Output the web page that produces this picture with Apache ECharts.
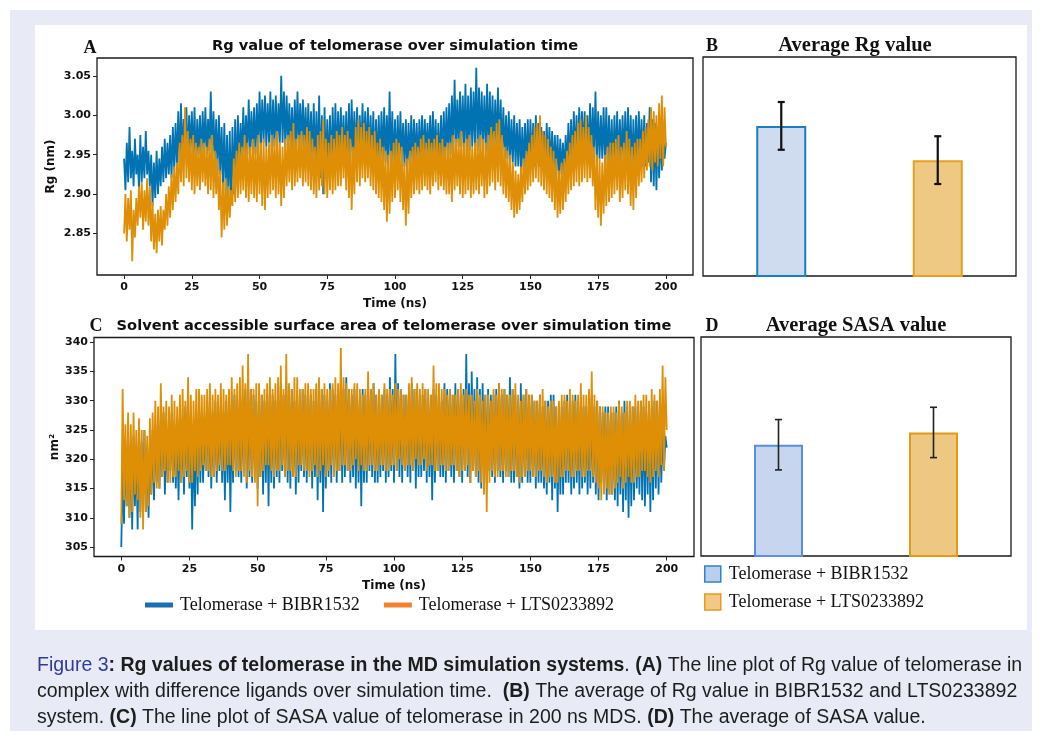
<!DOCTYPE html>
<html>
<head>
<meta charset="utf-8">
<title>Figure 3</title>
<script src="https://cdn.jsdelivr.net/npm/echarts@6/dist/echarts.min.js"></script>
<style>
  html, body { margin: 0; padding: 0; background: #fff; }
  #chart { width: 1042px; height: 740px; }
</style>
</head>
<body>
<div id="chart"></div>
<script>
const GROUPS = ['Telomerase + BIBR1532', 'Telomerase + LTS0233892']
const TIME_TICKS = [0, 25, 50, 75, 100, 125, 150, 175, 200]
const RG_TICKS = [2.85, 2.9, 2.95, 3.0, 3.05]
const SASA_TICKS = [305, 310, 315, 320, 325, 330, 335, 340]
const TIME_STEP = 0.5 // ns between samples, 0..200 ns

// Rg (nm), one row = 10 ns
const RG_BIBR = [
  2.945, 2.905, 2.965, 2.915, 2.985, 2.920, 2.955, 2.910, 2.970, 2.925, 2.950, 2.905, 2.975, 2.915, 2.960, 2.920, 2.980, 2.925, 2.955, 2.910,
  2.950, 2.885, 2.940, 2.895, 2.955, 2.900, 2.945, 2.910, 2.960, 2.915, 2.970, 2.920, 2.965, 2.925, 2.975, 2.920, 2.985, 2.930, 2.990, 2.935,
  3.005, 2.940, 3.015, 2.945, 2.995, 2.950, 3.010, 2.940, 3.000, 2.955, 3.005, 2.945, 3.010, 2.935, 2.995, 2.950, 3.000, 2.945, 3.005, 2.950,
  3.010, 2.950, 2.995, 2.955, 3.030, 2.945, 3.005, 2.940, 2.995, 2.930, 3.000, 2.925, 2.985, 2.910, 2.990, 2.900, 2.975, 2.895, 2.980, 2.890,
  2.985, 2.900, 2.995, 2.920, 3.000, 2.935, 2.990, 2.940, 3.010, 2.945, 3.000, 2.950, 3.020, 2.950, 3.005, 2.955, 3.010, 2.950, 3.015, 2.955,
  3.030, 2.960, 3.020, 2.965, 3.025, 2.960, 3.015, 2.965, 3.030, 2.955, 3.020, 2.960, 3.025, 2.960, 3.015, 2.965, 3.050, 2.965, 3.030, 2.960,
  3.025, 2.960, 3.015, 2.955, 3.010, 2.950, 3.020, 2.955, 3.030, 2.960, 3.015, 2.960, 3.020, 2.955, 3.010, 2.950, 3.015, 2.945, 3.005, 2.940,
  3.015, 2.935, 3.005, 2.930, 3.025, 2.920, 3.000, 2.900, 3.010, 2.925, 2.995, 2.930, 3.000, 2.930, 3.010, 2.935, 3.015, 2.940, 3.005, 2.945,
  3.010, 2.945, 3.000, 2.940, 3.005, 2.935, 3.015, 2.940, 3.020, 2.945, 3.005, 2.940, 3.010, 2.945, 3.000, 2.940, 3.015, 2.950, 3.005, 2.945,
  3.010, 2.945, 3.000, 2.940, 3.005, 2.930, 2.995, 2.935, 3.000, 2.935, 3.005, 2.940, 3.010, 2.940, 3.000, 2.935, 3.030, 2.935, 3.005, 2.930,
  2.995, 2.930, 3.000, 2.935, 3.005, 2.940, 2.990, 2.935, 2.995, 2.930, 2.990, 2.935, 3.000, 2.935, 2.995, 2.940, 2.990, 2.935, 2.995, 2.940,
  3.000, 2.940, 2.995, 2.945, 2.990, 2.945, 3.000, 2.940, 3.005, 2.940, 2.995, 2.935, 2.990, 2.930, 3.000, 2.940, 3.005, 2.945, 3.010, 2.950,
  3.015, 2.950, 3.025, 2.955, 3.045, 2.955, 3.020, 2.960, 3.030, 2.960, 3.025, 2.955, 3.040, 2.950, 3.025, 2.955, 3.035, 2.960, 3.030, 2.960,
  3.060, 2.955, 3.035, 2.960, 3.030, 2.960, 3.025, 2.955, 3.040, 2.950, 3.030, 2.955, 3.025, 2.955, 3.020, 2.955, 3.035, 2.950, 3.020, 2.950,
  3.010, 2.945, 3.000, 2.945, 3.005, 2.940, 2.995, 2.940, 3.000, 2.935, 2.990, 2.935, 2.995, 2.930, 2.985, 2.930, 2.990, 2.935, 2.995, 2.935,
  2.995, 2.935, 2.990, 2.935, 3.000, 2.940, 2.990, 2.935, 2.985, 2.930, 2.980, 2.930, 2.990, 2.935, 2.985, 2.930, 2.980, 2.925, 2.975, 2.925,
  2.975, 2.920, 2.970, 2.925, 2.965, 2.925, 2.975, 2.930, 2.990, 2.935, 2.995, 2.940, 3.005, 2.945, 3.000, 2.945, 3.010, 2.950, 3.005, 2.950,
  3.005, 2.950, 3.000, 2.945, 3.015, 2.945, 3.010, 2.945, 3.030, 2.940, 3.005, 2.945, 3.000, 2.945, 3.010, 2.940, 3.010, 2.935, 3.000, 2.935,
  2.995, 2.930, 3.000, 2.935, 3.005, 2.935, 2.995, 2.940, 3.000, 2.940, 3.005, 2.935, 3.010, 2.935, 3.000, 2.930, 2.995, 2.930, 3.000, 2.935,
  3.005, 2.940, 2.995, 2.935, 3.000, 2.935, 2.990, 2.940, 3.010, 2.915, 2.995, 2.910, 2.990, 2.905, 2.985, 2.920, 2.985, 2.930, 2.975, 2.945,
  2.965
]
const RG_LTS = [
  2.850, 2.900, 2.840, 2.895, 2.855, 2.905, 2.815, 2.880, 2.845, 2.895, 2.860, 2.910, 2.870, 2.915, 2.855, 2.905, 2.865, 2.920, 2.860, 2.910,
  2.840, 2.890, 2.830, 2.875, 2.825, 2.880, 2.840, 2.885, 2.835, 2.880, 2.855, 2.900, 2.860, 2.910, 2.870, 2.925, 2.880, 2.935, 2.890, 2.940,
  2.900, 2.965, 2.915, 2.975, 2.910, 3.010, 2.920, 2.980, 2.915, 2.970, 2.905, 2.975, 2.900, 2.965, 2.910, 2.960, 2.905, 2.970, 2.915, 2.965,
  2.910, 2.960, 2.900, 2.970, 2.905, 2.975, 2.895, 2.955, 2.900, 2.945, 2.880, 2.930, 2.845, 2.915, 2.855, 2.920, 2.860, 2.910, 2.870, 2.905,
  2.885, 2.945, 2.890, 2.955, 2.895, 2.965, 2.900, 2.960, 2.905, 2.975, 2.895, 2.965, 2.890, 2.960, 2.900, 2.970, 2.895, 2.960, 2.890, 2.975,
  2.900, 2.965, 2.885, 2.970, 2.880, 2.960, 2.895, 2.965, 2.900, 2.975, 2.905, 2.970, 2.895, 2.980, 2.900, 2.965, 2.885, 2.960, 2.895, 2.970,
  2.910, 2.975, 2.915, 2.980, 2.905, 2.990, 2.910, 2.970, 2.915, 2.975, 2.920, 2.980, 2.910, 2.975, 2.915, 2.985, 2.910, 2.980, 2.905, 2.970,
  2.900, 2.960, 2.895, 2.975, 2.905, 2.980, 2.910, 2.995, 2.900, 2.970, 2.895, 2.965, 2.905, 2.975, 2.900, 2.970, 2.905, 2.980, 2.910, 2.975,
  2.910, 2.985, 2.920, 2.975, 2.905, 2.980, 2.895, 2.970, 2.880, 2.960, 2.900, 2.985, 2.915, 2.995, 2.910, 2.985, 2.920, 2.990, 2.915, 2.980,
  2.920, 2.985, 2.910, 2.975, 2.905, 2.980, 2.900, 2.965, 2.895, 2.970, 2.890, 2.960, 2.880, 2.955, 2.865, 2.950, 2.875, 2.955, 2.890, 2.965,
  2.895, 2.970, 2.905, 2.965, 2.890, 2.960, 2.880, 2.940, 2.860, 2.945, 2.875, 2.955, 2.895, 2.960, 2.900, 2.965, 2.905, 2.960, 2.900, 2.970,
  2.905, 2.975, 2.910, 2.965, 2.905, 2.970, 2.900, 2.965, 2.910, 2.970, 2.915, 2.975, 2.905, 2.965, 2.910, 2.970, 2.905, 2.960, 2.900, 2.965,
  2.900, 2.965, 2.890, 2.975, 2.905, 2.970, 2.910, 2.970, 2.900, 2.980, 2.895, 2.965, 2.900, 2.970, 2.905, 2.975, 2.895, 2.960, 2.900, 2.965,
  2.905, 2.970, 2.900, 2.975, 2.910, 2.970, 2.895, 2.965, 2.900, 2.975, 2.910, 2.985, 2.915, 2.980, 2.905, 2.990, 2.915, 2.995, 2.910, 2.975,
  2.900, 2.960, 2.895, 2.955, 2.890, 2.950, 2.880, 2.940, 2.870, 2.930, 2.875, 2.925, 2.880, 2.935, 2.890, 2.945, 2.900, 2.955, 2.905, 2.965,
  2.910, 2.975, 2.915, 2.985, 2.920, 2.990, 2.915, 3.000, 2.910, 2.980, 2.905, 2.975, 2.900, 2.970, 2.895, 2.960, 2.890, 2.955, 2.880, 2.945,
  2.870, 2.930, 2.875, 2.940, 2.880, 2.945, 2.890, 2.955, 2.900, 2.965, 2.905, 2.975, 2.910, 2.980, 2.915, 2.990, 2.910, 2.995, 2.915, 2.985,
  2.920, 3.000, 2.915, 2.985, 2.920, 2.975, 2.910, 2.960, 2.880, 2.950, 2.870, 2.945, 2.860, 2.940, 2.875, 2.950, 2.885, 2.960, 2.890, 2.965,
  2.895, 2.965, 2.900, 2.970, 2.905, 2.975, 2.890, 2.960, 2.895, 2.965, 2.905, 2.980, 2.900, 2.970, 2.885, 2.960, 2.880, 2.965, 2.895, 2.970,
  2.910, 2.970, 2.915, 2.980, 2.920, 2.985, 2.930, 2.995, 2.935, 3.010, 2.930, 3.005, 2.940, 3.000, 2.935, 3.015, 2.945, 3.025, 2.935, 3.010,
  2.960
]
// SASA (nm²), one row = 10 ns
const SASA_BIBR = [
  305, 318, 309, 322, 312, 325, 310, 323, 308, 324, 312, 322, 308, 326, 311, 323, 313, 325, 311, 322,
  310, 322, 314, 325, 313, 326, 316, 327, 315, 325, 317, 328, 314, 325, 316, 327, 318, 328, 316, 326,
  315, 326, 313, 328, 316, 327, 314, 329, 317, 327, 315, 326, 308, 325, 312, 327, 314, 329, 316, 328,
  316, 327, 318, 330, 317, 329, 315, 328, 317, 330, 316, 328, 318, 329, 316, 328, 313, 330, 316, 329,
  311, 327, 316, 331, 318, 330, 317, 329, 316, 330, 318, 332, 315, 331, 317, 332, 316, 331, 318, 330,
  315, 330, 317, 331, 314, 330, 316, 331, 312, 332, 316, 331, 315, 330, 317, 331, 316, 333, 318, 331,
  317, 333, 316, 331, 315, 332, 317, 330, 314, 331, 316, 330, 318, 332, 317, 331, 316, 332, 318, 331,
  315, 330, 317, 332, 313, 331, 316, 332, 311, 331, 315, 330, 317, 333, 316, 332, 318, 331, 316, 332,
  318, 333, 316, 332, 317, 334, 318, 332, 316, 331, 317, 332, 315, 330, 316, 331, 312, 332, 316, 331,
  316, 331, 318, 332, 317, 333, 316, 331, 316, 330, 317, 331, 318, 332, 316, 331, 317, 334, 318, 332,
  316, 338, 318, 333, 317, 332, 316, 331, 318, 331, 317, 332, 316, 333, 318, 332, 315, 332, 317, 331,
  317, 331, 318, 332, 316, 330, 317, 331, 313, 332, 316, 331, 318, 331, 317, 330, 317, 333, 316, 332,
  318, 332, 317, 331, 316, 333, 318, 332, 317, 331, 316, 332, 318, 338, 317, 333, 316, 335, 318, 332,
  317, 334, 316, 332, 315, 333, 317, 331, 316, 332, 318, 331, 317, 331, 316, 332, 318, 333, 317, 331,
  316, 332, 318, 331, 317, 334, 316, 332, 316, 331, 317, 330, 315, 333, 316, 331, 317, 332, 316, 331,
  316, 331, 317, 330, 315, 330, 316, 331, 316, 329, 315, 330, 314, 330, 316, 331, 313, 331, 315, 329,
  311, 328, 314, 329, 314, 330, 316, 331, 316, 329, 314, 330, 315, 331, 316, 330, 314, 330, 315, 329,
  316, 329, 314, 330, 315, 331, 316, 329, 314, 330, 313, 329, 316, 328, 315, 329, 313, 329, 314, 328,
  314, 328, 313, 329, 312, 330, 314, 328, 311, 330, 313, 329, 310, 328, 312, 329, 313, 329, 315, 328,
  314, 330, 313, 329, 312, 328, 314, 329, 311, 329, 313, 330, 315, 330, 314, 329, 316, 325, 318, 324,
  322
]
const SASA_LTS = [
  309, 332, 313, 326, 312, 328, 310, 326, 311, 328, 314, 325, 313, 327, 310, 325, 308, 325, 311, 324,
  312, 327, 314, 328, 316, 330, 315, 329, 315, 333, 317, 329, 318, 330, 316, 329, 316, 331, 317, 330,
  317, 329, 318, 331, 316, 332, 317, 330, 318, 334, 316, 331, 316, 330, 318, 332, 317, 332, 318, 331,
  319, 331, 318, 332, 318, 333, 317, 331, 317, 332, 318, 331, 319, 333, 318, 332, 318, 331, 319, 332,
  319, 334, 318, 332, 317, 333, 318, 334, 318, 336, 317, 333, 316, 338, 318, 332, 317, 332, 316, 333,
  312, 333, 317, 331, 318, 332, 319, 333, 319, 334, 318, 332, 317, 333, 318, 334, 318, 336, 319, 332,
  317, 338, 318, 333, 318, 332, 317, 334, 317, 334, 319, 332, 319, 332, 318, 333, 318, 333, 317, 332,
  318, 332, 319, 333, 317, 334, 318, 332, 319, 333, 317, 332, 318, 332, 319, 333, 317, 334, 318, 333,
  318, 339, 319, 334, 319, 333, 318, 332, 318, 332, 319, 333, 320, 333, 318, 332, 319, 331, 318, 332,
  318, 335, 319, 332, 319, 333, 318, 331, 318, 332, 319, 331, 319, 333, 318, 332, 318, 332, 319, 331,
  319, 333, 318, 332, 320, 332, 319, 331, 318, 331, 319, 333, 319, 334, 318, 332, 320, 333, 319, 332,
  319, 333, 320, 332, 318, 332, 319, 331, 319, 336, 318, 333, 318, 333, 319, 332, 319, 332, 318, 331,
  318, 332, 319, 331, 319, 331, 318, 332, 317, 333, 318, 331, 318, 332, 319, 331, 316, 331, 318, 330,
  317, 332, 318, 331, 316, 330, 314, 331, 311, 331, 316, 330, 318, 332, 317, 331, 317, 333, 318, 332,
  318, 332, 317, 331, 317, 331, 318, 332, 318, 333, 317, 331, 316, 330, 317, 331, 317, 332, 318, 331,
  318, 331, 317, 330, 317, 330, 318, 331, 318, 332, 317, 330, 316, 329, 317, 330, 317, 330, 316, 329,
  316, 330, 317, 331, 317, 331, 318, 330, 318, 332, 317, 331, 317, 330, 318, 331, 318, 333, 317, 331,
  317, 331, 318, 332, 318, 335, 317, 331, 316, 330, 315, 329, 313, 329, 314, 328, 315, 328, 314, 329,
  314, 329, 315, 328, 316, 330, 317, 329, 315, 328, 316, 330, 317, 330, 316, 329, 316, 331, 317, 330,
  317, 330, 318, 331, 318, 331, 317, 330, 316, 332, 317, 331, 318, 330, 317, 332, 319, 336, 318, 334,
  325
]

// averages and standard deviations (panels B and D)
const RG_MEAN = [2.986, 2.943]
const RG_SD = [0.030, 0.030]
const SASA_MEAN = [322.4, 324.5]
const SASA_SD = [4.3, 4.3]

const LINE_COLORS = ['#0173b2', '#de8f05']
const TICK_FONT = { fontFamily: 'DejaVu Sans', fontWeight: 'bold', fontSize: 11, color: '#111' }
const NAME_FONT = { fontFamily: 'DejaVu Sans', fontWeight: 'bold', fontSize: 12, color: '#111' }
const SERIF = 'Liberation Serif'

function toPairs(values) {
  return values.map((v, i) => [i * TIME_STEP, v])
}

function timeAxis(gridIndex) {
  return {
    type: 'value',
    gridIndex,
    min: -10,
    max: 210,
    name: 'Time (ns)',
    nameLocation: 'middle',
    nameGap: 23,
    nameMoveOverlap: false,
    nameTextStyle: NAME_FONT,
    axisLine: { show: false, onZero: false },
    splitLine: { show: false },
    axisTick: { customValues: TIME_TICKS, length: 4, lineStyle: { color: '#222', width: 1 } },
    axisLabel: { customValues: TIME_TICKS, margin: 7, ...TICK_FONT }
  }
}

function valueAxis(gridIndex, min, max, ticks, name, gap, digits) {
  return {
    type: 'value',
    gridIndex,
    min,
    max,
    name,
    nameLocation: 'middle',
    nameRotate: 90,
    nameGap: gap,
    nameMoveOverlap: false,
    nameTextStyle: NAME_FONT,
    axisLine: { show: false, onZero: false },
    splitLine: { show: false },
    axisTick: { customValues: ticks, length: 4, lineStyle: { color: '#222', width: 1 } },
    axisLabel: {
      customValues: ticks,
      margin: 6,
      formatter: (v) => v.toFixed(digits),
      ...TICK_FONT
    }
  }
}

function hiddenAxis(gridIndex, min, max) {
  return { type: 'value', gridIndex, min, max, show: false, splitLine: { show: false } }
}

function categoryAxis(gridIndex) {
  return { type: 'category', gridIndex, data: GROUPS, show: false }
}

function errorBars(capHalf, width, color) {
  return function (params, api) {
    const idx = api.value(0)
    const mean = api.value(1)
    const err = api.value(2)
    const top = api.coord([idx, mean + err])
    const bottom = api.coord([idx, mean - err])
    const style = { stroke: color, lineWidth: width }
    return {
      type: 'group',
      children: [
        { type: 'line', shape: { x1: top[0], y1: top[1], x2: bottom[0], y2: bottom[1] }, style },
        { type: 'line', shape: { x1: top[0] - capHalf, y1: top[1], x2: top[0] + capHalf, y2: top[1] }, style },
        { type: 'line', shape: { x1: bottom[0] - capHalf, y1: bottom[1], x2: bottom[0] + capHalf, y2: bottom[1] }, style }
      ]
    }
  }
}

function lineSeries(name, values, axisIndex, color) {
  return {
    name,
    type: 'line',
    xAxisIndex: axisIndex,
    yAxisIndex: axisIndex,
    data: toPairs(values),
    showSymbol: false,
    animation: false,
    clip: true,
    lineStyle: { color, width: 1.8 },
    itemStyle: { color },
    emphasis: { disabled: true }
  }
}

function barSeries(values, axisIndex, fills, borders, barWidth) {
  return {
    type: 'bar',
    xAxisIndex: axisIndex,
    yAxisIndex: axisIndex,
    barWidth,
    animation: false,
    clip: true,
    data: values.map((v, i) => ({
      value: v,
      itemStyle: { color: fills[i], borderColor: borders[i], borderWidth: 2 }
    }))
  }
}

function errorSeries(means, sds, axisIndex, capHalf, width, color) {
  return {
    type: 'custom',
    xAxisIndex: axisIndex,
    yAxisIndex: axisIndex,
    animation: false,
    z: 5,
    encode: { x: 0, y: 1 },
    renderItem: errorBars(capHalf, width, color),
    data: means.map((m, i) => [i, m, sds[i]])
  }
}

const RG_MIN = 2.7975
const RG_MAX = 3.0725
const SASA_MIN = 303.4
const SASA_MAX = 340.8

const frame = { show: true, borderColor: '#1a1a1a', borderWidth: 1.3, backgroundColor: 'transparent' }

const caption = [
  '{fig|Figure 3}{b|: Rg values of telomerase in the MD simulation systems}{n|. }{b|(A)}{n| The line plot of Rg value of telomerase in}',
  '{n|complex with difference ligands over simulation time.  }{b|(B)}{n| The average of Rg value in BIBR1532 and LTS0233892}',
  '{n|system. }{b|(C)}{n| The line plot of SASA value of telomerase in 200 ns MDS. }{b|(D)}{n| The average of SASA value.}'
].join('\n')

const capFont = 'Liberation Sans'
const capSize = 19.5
const plotTitleFont = 'bold 14.6px "DejaVu Sans"'
const barTitleFont = 'bold 20.5px "Liberation Serif"'
const letterFont = 'bold 18px "Liberation Serif"'

function label(x, y, text, font) {
  return { type: 'text', x, y, style: { text, font, fill: '#111', align: 'center', verticalAlign: 'middle' } }
}

const chart = echarts.init(document.getElementById('chart'))
chart.setOption({
  backgroundColor: '#fff',
  animation: false,
  graphic: [
    { type: 'rect', z: -20, shape: { x: 10, y: 10, width: 1022, height: 721 }, style: { fill: '#e8ebf6' } },
    { type: 'rect', z: -19, shape: { x: 35, y: 25, width: 992, height: 605 }, style: { fill: '#ffffff' } },
    label(90, 48, 'A', letterFont),
    label(395, 46, 'Rg value of telomerase over simulation time', plotTitleFont),
    label(712, 46, 'B', letterFont),
    label(855, 46, 'Average Rg value', barTitleFont),
    label(96, 326, 'C', letterFont),
    label(394, 326, 'Solvent accessible surface area of telomerase over simulation time', plotTitleFont),
    label(712, 326, 'D', letterFont),
    label(856, 326, 'Average SASA value', barTitleFont),
    {
      type: 'text',
      x: 37,
      y: 653,
      style: {
        text: caption,
        fill: '#1d1d1d',
        font: capSize + 'px "' + capFont + '"',
        lineHeight: 26,
        rich: {
          fig: { fill: '#2e3c98', fontFamily: capFont, fontSize: capSize, lineHeight: 26 },
          b: { fill: '#1d1d1d', fontFamily: capFont, fontSize: capSize, fontWeight: 'bold', lineHeight: 26 },
          n: { fill: '#1d1d1d', fontFamily: capFont, fontSize: capSize, lineHeight: 26 }
        }
      }
    }
  ],
  legend: [
    {
      left: 145,
      top: 596,
      padding: 0,
      itemGap: 24,
      itemWidth: 28,
      itemHeight: 5,
      selectedMode: false,
      icon: 'rect',
      textStyle: { fontFamily: SERIF, fontSize: 18, color: '#111', padding: [0, 0, 0, 2] },
      data: [
        { name: GROUPS[0], itemStyle: { color: '#1a6fb1', borderWidth: 0 } },
        { name: GROUPS[1], itemStyle: { color: '#f0822f', borderWidth: 0 } }
      ]
    },
    {
      left: 704,
      top: 565,
      orient: 'vertical',
      padding: 0,
      itemGap: 10,
      itemWidth: 16,
      itemHeight: 16,
      selectedMode: false,
      icon: 'rect',
      textStyle: { fontFamily: SERIF, fontSize: 18, color: '#111', padding: [0, 0, 0, 3] },
      data: [
        { name: GROUPS[0], itemStyle: { color: '#b9d0ec', borderColor: '#2f83c6', borderWidth: 1.5 } },
        { name: GROUPS[1], itemStyle: { color: '#f0c988', borderColor: '#e59b1b', borderWidth: 1.5 } }
      ]
    }
  ],
  grid: [
    { left: 97, top: 58, width: 596, height: 217, ...frame },
    { left: 703, top: 57, width: 313, height: 219, ...frame },
    { left: 94, top: 337.5, width: 600, height: 219, ...frame },
    { left: 701, top: 337, width: 310, height: 219, ...frame }
  ],
  xAxis: [timeAxis(0), categoryAxis(1), timeAxis(2), categoryAxis(3)],
  yAxis: [
    valueAxis(0, RG_MIN, RG_MAX, RG_TICKS, 'Rg (nm)', 40, 2),
    hiddenAxis(1, RG_MIN, RG_MAX),
    valueAxis(2, SASA_MIN, SASA_MAX, SASA_TICKS, 'nm²', 33, 0),
    hiddenAxis(3, SASA_MIN, SASA_MAX)
  ],
  series: [
    lineSeries(GROUPS[0], RG_BIBR, 0, LINE_COLORS[0]),
    lineSeries(GROUPS[1], RG_LTS, 0, LINE_COLORS[1]),
    barSeries(RG_MEAN, 1, ['#cfdbef', '#edc984'], ['#1a7ec2', '#e8a01c'], 50),
    errorSeries(RG_MEAN, RG_SD, 1, 3.5, 2.2, '#111'),
    lineSeries(GROUPS[0], SASA_BIBR, 2, LINE_COLORS[0]),
    lineSeries(GROUPS[1], SASA_LTS, 2, LINE_COLORS[1]),
    barSeries(SASA_MEAN, 3, ['#c7d6ee', '#edc882'], ['#5b8ee0', '#e59a15'], 49),
    errorSeries(SASA_MEAN, SASA_SD, 3, 3.5, 1.6, '#222')
  ]
})
</script>
</body>
</html>
